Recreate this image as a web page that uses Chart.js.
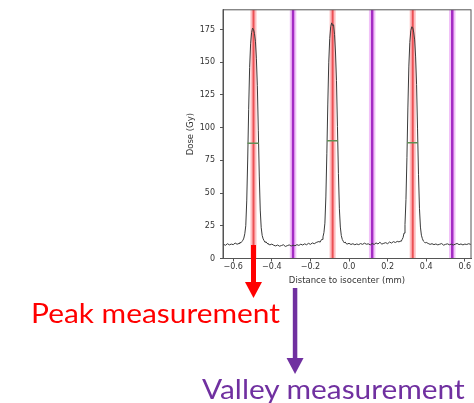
<!DOCTYPE html>
<html>
<head>
<meta charset="utf-8">
<script src="https://cdn.jsdelivr.net/npm/chart.js@4.4.1/dist/chart.umd.min.js"></script>
<style>
  html, body { margin: 0; padding: 0; background: #fff; }
  #wrap { position: relative; width: 474px; height: 403px; overflow: hidden; }
  #dose-graphic { position: absolute; left: 0; top: 0; }
  .note { position: absolute; font-family: Lato, "Open Sans", sans-serif; font-size: 27px; line-height: 27px; white-space: nowrap; transform-origin: 0 0; }
  #peak-note { color: #ff0000; left: 31px; top: 299px; }
  #valley-note { color: #7030a0; left: 202px; top: 375px; }
</style>
</head>
<body>
<div id="wrap">
  <canvas id="dose-graphic" width="474" height="403"></canvas>
  <div class="note" id="peak-note">Peak measurement</div>
  <div class="note" id="valley-note">Valley measurement</div>
</div>
<script>
// profile: distance (mm) / dose (Gy)
const distA = [-0.66, -0.65, -0.64, -0.63, -0.62, -0.61, -0.60, -0.59, -0.58, -0.57];
const doseA = [10.2, 10.8, 10.1, 11.3, 10.4, 11.0, 10.6, 11.8, 10.9, 11.5];

const distP1 = [-0.565, -0.56, -0.555, -0.55, -0.545, -0.54, -0.535, -0.53, -0.525, -0.52, -0.515, -0.51, -0.505, -0.50, -0.495,
    -0.49, -0.485, -0.48, -0.475, -0.47, -0.465, -0.46, -0.455, -0.45, -0.445, -0.44, -0.435, -0.43, -0.425];
const doseP1 = [12.4, 12.0, 13.1, 13.8, 15.6, 18.9, 25, 44, 76, 114, 146, 164, 172.5, 176, 175,
    172, 166, 153, 132, 98, 63, 37, 23.5, 17.6, 15.0, 13.6, 12.3, 12.8, 11.6];

const distB = [-0.42, -0.41, -0.40, -0.39, -0.38, -0.37, -0.36, -0.35, -0.34, -0.33, -0.32, -0.31, -0.30, -0.29,
    -0.28, -0.27, -0.26, -0.25, -0.24, -0.23, -0.22, -0.21, -0.20, -0.19, -0.18, -0.17, -0.16];
const doseB = [11.2, 10.4, 11.0, 10.1, 9.6, 10.3, 9.4, 9.9, 10.5, 9.2, 9.8, 10.4, 9.5, 10.2,
    9.7, 10.6, 10.0, 10.9, 10.3, 11.2, 10.5, 11.6, 10.8, 11.9, 11.3, 12.2, 12.8];

const distP2 = [-0.155, -0.15, -0.145, -0.14, -0.135, -0.13, -0.125, -0.12, -0.115, -0.11, -0.105, -0.10, -0.095, -0.09, -0.085,
    -0.08, -0.075, -0.07, -0.065, -0.06, -0.055, -0.05, -0.045, -0.04, -0.035, -0.03, -0.025, -0.02, -0.015];
const doseP2 = [13.0, 12.4, 14.0, 14.6, 16.5, 19.8, 27, 47, 80, 118, 150, 168, 177, 180, 178,
    178.5, 171, 157, 136, 101, 65, 38, 24, 17.5, 14.6, 13.2, 12.0, 12.6, 11.4];

const distC = [-0.01, 0.00, 0.01, 0.02, 0.03, 0.04, 0.05, 0.06, 0.07, 0.08, 0.09, 0.10, 0.11, 0.12,
    0.13, 0.14, 0.15, 0.16, 0.17, 0.18, 0.19, 0.20, 0.21, 0.22, 0.23, 0.24, 0.25];
const doseC = [11.0, 11.6, 10.7, 11.3, 10.5, 11.1, 10.6, 11.4, 10.8, 11.7, 10.9, 11.2, 10.4, 11.5,
    10.7, 11.9, 11.1, 12.4, 11.0, 11.6, 12.1, 11.3, 12.6, 11.8, 12.9, 12.2, 13.1];

const distP3 = [0.26, 0.265, 0.27, 0.275, 0.28, 0.285, 0.29, 0.295, 0.30, 0.305, 0.31, 0.315, 0.32, 0.325, 0.33,
    0.335, 0.34, 0.345, 0.35, 0.355, 0.36, 0.365, 0.37, 0.375, 0.38, 0.385, 0.39, 0.395, 0.40];
const doseP3 = [12.6, 13.4, 13.0, 14.5, 16.0, 19.4, 26, 45, 77, 115, 147, 165, 174, 177, 176.5,
    173, 167, 154, 133, 99, 64, 38, 24, 17.8, 15.2, 13.4, 12.7, 11.9, 12.3];

const distD = [0.41, 0.42, 0.43, 0.44, 0.45, 0.46, 0.47, 0.48, 0.49, 0.50, 0.51, 0.52,
    0.53, 0.54, 0.55, 0.56, 0.57, 0.58, 0.59, 0.60, 0.61, 0.62, 0.63, 0.64];
const doseD = [11.5, 10.8, 11.3, 10.6, 11.1, 10.4, 10.9, 11.4, 10.2, 10.8, 11.2, 10.5,
    11.0, 10.3, 10.9, 11.5, 10.6, 11.1, 10.4, 11.0, 10.7, 11.3, 10.8, 11.2];

// measurement positions (mm)
const peakPos = [-0.495, -0.085, 0.33];
const valleyPos = [-0.29, 0.12, 0.535];

// FWHM markers
const fwhmLevel = [88, 90, 88.5];
const fwhmStart = [-0.526, -0.114, 0.301];
const fwhmEnd = [-0.467, -0.057, 0.357];

const xTicks = [-0.6, -0.4, -0.2, 0.0, 0.2, 0.4, 0.6];
const yTicks = [0, 25, 50, 75, 100, 125, 150, 175];

(function () {
    const graphic = document.querySelector('#dose-graphic');

    const dist = [].concat(distA, distP1, distB, distP2, distC, distP3, distD);
    const dose = [].concat(doseA, doseP1, doseB, doseP2, doseC, doseP3, doseD);
    const profile = dist.map((d, i) => ({ x: d, y: dose[i] }));

    function verticals(list) {
        const pts = [];
        list.forEach(p => {
            pts.push({ x: p, y: 0 }, { x: p, y: 190 }, { x: p, y: null });
        });
        return pts;
    }

    const fwhm = [];
    fwhmLevel.forEach((lvl, i) => {
        fwhm.push({ x: fwhmStart[i], y: lvl }, { x: fwhmEnd[i], y: lvl }, { x: fwhmEnd[i], y: null });
    });

    const lineBase = { pointRadius: 0, spanGaps: false, tension: 0, fill: false };

    const frame = {
        id: 'frame',
        afterDatasetsDraw(chart) {
            const { ctx, chartArea: a } = chart;
            ctx.save();
            ctx.strokeStyle = '#555';
            ctx.lineWidth = 1;
            ctx.strokeRect(a.left, a.top, a.right - a.left, a.bottom - a.top);
            ctx.restore();
        },
        afterDraw(chart) {
            const { ctx } = chart;
            const xs = chart.scales.x;
            drawArrow(ctx, xs.getPixelForValue(peakPos[0]), 245, 298, 5, 17, 16, '#ff0000');
            drawArrow(ctx, xs.getPixelForValue(valleyPos[0]) + 2, 288, 374, 4.5, 17, 16, '#7030a0');
        }
    };

    function drawArrow(ctx, x, y0, y1, w, headW, headH, color) {
        ctx.save();
        ctx.fillStyle = color;
        ctx.fillRect(x - w / 2, y0, w, y1 - y0 - headH);
        ctx.beginPath();
        ctx.moveTo(x - headW / 2, y1 - headH);
        ctx.lineTo(x + headW / 2, y1 - headH);
        ctx.lineTo(x, y1);
        ctx.closePath();
        ctx.fill();
        ctx.restore();
    }

    const tickFont = { family: 'DejaVu Sans', size: 8 };
    const titleFont = { family: 'DejaVu Sans', size: 8.5 };

    new Chart(graphic, {
        type: 'line',
        data: {
            datasets: [
                Object.assign({ data: fwhm, borderColor: '#5f8f55', borderWidth: 1.5, order: 0 }, lineBase),
                Object.assign({ data: profile, borderColor: '#3a3a3a', borderWidth: 1, order: 1 }, lineBase),
                Object.assign({ data: verticals(peakPos), borderColor: 'rgba(232, 52, 58, 0.8)', borderWidth: 2, order: 2 }, lineBase),
                Object.assign({ data: verticals(peakPos), borderColor: 'rgba(250, 110, 115, 0.45)', borderWidth: 6, order: 3 }, lineBase),
                Object.assign({ data: verticals(valleyPos), borderColor: '#a42cc4', borderWidth: 2.5, order: 4 }, lineBase),
                Object.assign({ data: verticals(valleyPos), borderColor: 'rgba(225, 120, 240, 0.45)', borderWidth: 6.5, order: 5 }, lineBase)
            ]
        },
        options: {
            responsive: false,
            animation: false,
            devicePixelRatio: 1,
            layout: {
                padding: { left: 185.5, right: 3, top: 9.5, bottom: 117 }
            },
            scales: {
                x: {
                    type: 'linear',
                    min: -0.653,
                    max: 0.632,
                    afterFit: s => { s.height = 27.5; },
                    afterBuildTicks: s => { s.ticks = xTicks.map(v => ({ value: v })); },
                    ticks: {
                        font: tickFont,
                        color: '#333',
                        padding: 1,
                        maxRotation: 0,
                        callback: v => v.toFixed(1).replace('-', '\u2212')
                    },
                    grid: { display: true, drawOnChartArea: false, drawTicks: true, tickLength: 3, color: '#555' },
                    border: { display: true, color: '#555' },
                    title: { display: true, text: 'Distance to isocenter (mm)', font: titleFont, color: '#333', padding: 0 }
                },
                y: {
                    type: 'linear',
                    min: 0,
                    max: 190,
                    afterFit: s => { s.width = 37.5; },
                    afterBuildTicks: s => { s.ticks = yTicks.map(v => ({ value: v })); },
                    ticks: { font: tickFont, color: '#333', padding: 5 },
                    grid: { display: true, drawOnChartArea: false, drawTicks: true, tickLength: 3, color: '#555' },
                    border: { display: true, color: '#555' },
                    title: { display: true, text: 'Dose (Gy)', font: titleFont, color: '#333', padding: 0 }
                }
            },
            plugins: {
                legend: { display: false },
                tooltip: { enabled: false }
            }
        },
        plugins: [frame]
    });

    // stretch the notes to the width they take in the picture
    [['#peak-note', 249], ['#valley-note', 263]].forEach(([sel, w]) => {
        const el = document.querySelector(sel);
        el.style.transform = 'scaleX(' + (w / el.offsetWidth) + ')';
    });
})();
</script>
</body>
</html>
